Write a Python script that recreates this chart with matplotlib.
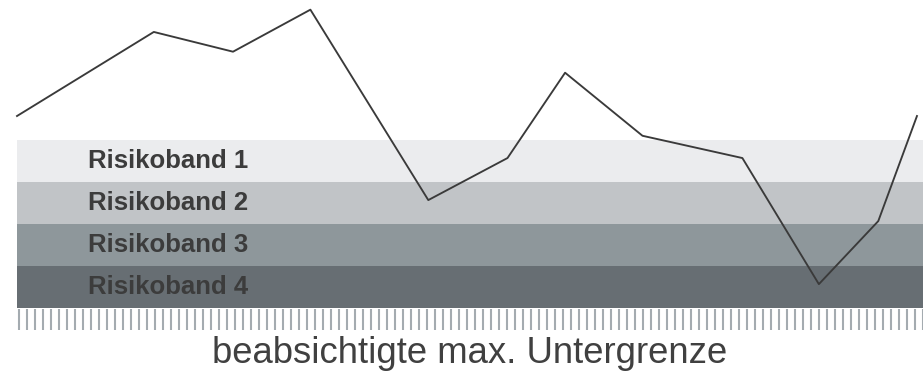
import numpy as np
import matplotlib.pyplot as plt

# course of the index over time (x in % of period, y in band units)
x_vals = [0, 15.2, 24.0, 32.6, 45.7, 54.5, 60.9, 69.5, 80.6, 89.1, 95.7, 100]
y_vals = [4.57, 6.57, 6.10, 7.10, 2.57, 3.57, 5.60, 4.10, 3.57, 0.57, 2.07, 4.57]

# risk bands, top to bottom
band_labels = ['Risikoband 1', 'Risikoband 2', 'Risikoband 3', 'Risikoband 4']
band_lower = [3, 2, 1, 0]
band_upper = [4, 3, 2, 1]
band_colors = ['#ebecee', '#c1c4c7', '#8e979b', '#676e73']

floor_label = 'beabsichtigte max. Untergrenze'

plt.rcParams['font.family'] = ['Liberation Sans', 'DejaVu Sans']

fig = plt.figure(figsize=(9.23, 3.72), dpi=100)
ax = fig.add_axes([0, 0, 1, 1])
ax.set_xlim(-1.89, 100.67)
ax.set_ylim(-1.52, 7.33)
ax.axis('off')

'''BANDS'''
for lab, lo, hi, col in zip(band_labels, band_lower, band_upper, band_colors):
    ax.fill_between([0, 100.67], lo, hi, color=col, linewidth=0, zorder=1)
    ax.text(7.9, (lo + hi) / 2, lab, fontsize=18.5, fontweight='bold',
            color='#3c3c3c', va='center', ha='left', zorder=3)

'''FLOOR STRIPES'''
stripes = np.arange(0.2, 100.67, 8 / 9)
ax.vlines(stripes, -0.52, -0.02, color='#a4abb0', linewidth=1.5, zorder=1)

ax.text(50.3, -1.07, floor_label, fontsize=26.3, color='#404040',
        ha='center', va='center')

'''LINE'''
ax.plot(x_vals, y_vals, color='#3a3a3a', linewidth=1.35, zorder=4)

fig.savefig('out.png', dpi=100)
plt.close()
